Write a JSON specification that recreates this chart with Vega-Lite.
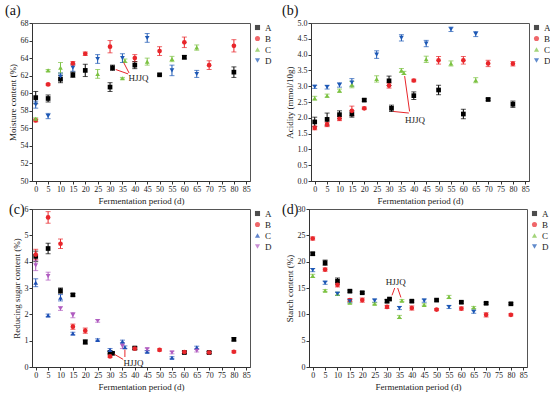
{
"$schema": "https://vega.github.io/schema/vega-lite/v6.json",
"padding": {"left": 4, "top": 3, "right": 0, "bottom": 0},
"background": "white",
"datasets": {
"pts": [
{"panel":"a","grp":"A","day":0,"val":59.5,"err":0.7},
{"panel":"a","grp":"A","day":5,"val":59.4,"err":0.4},
{"panel":"a","grp":"A","day":10,"val":61.6,"err":0.4},
{"panel":"a","grp":"A","day":15,"val":62.1,"err":0.3},
{"panel":"a","grp":"A","day":20,"val":62.6,"err":0.7},
{"panel":"a","grp":"A","day":30,"val":60.7,"err":0.5},
{"panel":"a","grp":"A","day":31,"val":62.9,"err":0.3},
{"panel":"a","grp":"A","day":40,"val":63.2,"err":0.4},
{"panel":"a","grp":"A","day":50,"val":62.1,"err":0.1},
{"panel":"a","grp":"A","day":60,"val":64.1,"err":0.2},
{"panel":"a","grp":"A","day":80,"val":62.4,"err":0.6},
{"panel":"a","grp":"B","day":0,"val":56.9,"err":0.15},
{"panel":"a","grp":"B","day":5,"val":61.0,"err":0.1},
{"panel":"a","grp":"B","day":15,"val":63.4,"err":0.2},
{"panel":"a","grp":"B","day":20,"val":64.5,"err":0.2},
{"panel":"a","grp":"B","day":30,"val":65.3,"err":0.7},
{"panel":"a","grp":"B","day":40,"val":64.0,"err":0.4},
{"panel":"a","grp":"B","day":50,"val":64.8,"err":0.5},
{"panel":"a","grp":"B","day":60,"val":65.8,"err":0.6},
{"panel":"a","grp":"B","day":70,"val":63.2,"err":0.5},
{"panel":"a","grp":"B","day":80,"val":65.4,"err":0.7},
{"panel":"a","grp":"C","day":0,"val":57.1,"err":0.1},
{"panel":"a","grp":"C","day":5,"val":62.6,"err":0.1},
{"panel":"a","grp":"C","day":10,"val":62.9,"err":0.6},
{"panel":"a","grp":"C","day":25,"val":62.2,"err":0.5},
{"panel":"a","grp":"C","day":35,"val":61.7,"err":0.1},
{"panel":"a","grp":"C","day":36,"val":63.7,"err":0.2},
{"panel":"a","grp":"C","day":45,"val":63.6,"err":0.4},
{"panel":"a","grp":"C","day":55,"val":63.9,"err":0.3},
{"panel":"a","grp":"C","day":65,"val":65.2,"err":0.3},
{"panel":"a","grp":"D","day":0,"val":58.7,"err":0.4},
{"panel":"a","grp":"D","day":5,"val":57.4,"err":0.3},
{"panel":"a","grp":"D","day":10,"val":61.9,"err":0.4},
{"panel":"a","grp":"D","day":15,"val":62.9,"err":0.4},
{"panel":"a","grp":"D","day":25,"val":63.9,"err":0.5},
{"panel":"a","grp":"D","day":35,"val":64.0,"err":0.5},
{"panel":"a","grp":"D","day":45,"val":66.3,"err":0.5},
{"panel":"a","grp":"D","day":55,"val":62.6,"err":0.6},
{"panel":"a","grp":"D","day":65,"val":62.2,"err":0.4},
{"panel":"b","grp":"A","day":0,"val":1.87,"err":0.15},
{"panel":"b","grp":"A","day":5,"val":1.95,"err":0.2},
{"panel":"b","grp":"A","day":10,"val":2.1,"err":0.12},
{"panel":"b","grp":"A","day":15,"val":2.12,"err":0.1},
{"panel":"b","grp":"A","day":20,"val":2.56,"err":0.04},
{"panel":"b","grp":"A","day":30,"val":3.17,"err":0.15},
{"panel":"b","grp":"A","day":31,"val":2.3,"err":0.1},
{"panel":"b","grp":"A","day":40,"val":2.7,"err":0.12},
{"panel":"b","grp":"A","day":50,"val":2.88,"err":0.15},
{"panel":"b","grp":"A","day":60,"val":2.12,"err":0.15},
{"panel":"b","grp":"A","day":70,"val":2.58,"err":0.04},
{"panel":"b","grp":"A","day":80,"val":2.43,"err":0.1},
{"panel":"b","grp":"B","day":0,"val":1.68,"err":0.06},
{"panel":"b","grp":"B","day":5,"val":1.79,"err":0.07},
{"panel":"b","grp":"B","day":10,"val":1.97,"err":0.06},
{"panel":"b","grp":"B","day":15,"val":2.22,"err":0.15},
{"panel":"b","grp":"B","day":20,"val":2.3,"err":0.04},
{"panel":"b","grp":"B","day":30,"val":3.02,"err":0.08},
{"panel":"b","grp":"B","day":40,"val":3.18,"err":0.04},
{"panel":"b","grp":"B","day":50,"val":3.82,"err":0.12},
{"panel":"b","grp":"B","day":60,"val":3.82,"err":0.12},
{"panel":"b","grp":"B","day":70,"val":3.72,"err":0.1},
{"panel":"b","grp":"B","day":80,"val":3.71,"err":0.07},
{"panel":"b","grp":"C","day":0,"val":2.62,"err":0.06},
{"panel":"b","grp":"C","day":5,"val":2.7,"err":0.05},
{"panel":"b","grp":"C","day":10,"val":2.86,"err":0.05},
{"panel":"b","grp":"C","day":15,"val":3.05,"err":0.1},
{"panel":"b","grp":"C","day":25,"val":3.23,"err":0.1},
{"panel":"b","grp":"C","day":35,"val":3.5,"err":0.06},
{"panel":"b","grp":"C","day":36,"val":3.42,"err":0.05},
{"panel":"b","grp":"C","day":45,"val":3.85,"err":0.1},
{"panel":"b","grp":"C","day":55,"val":3.72,"err":0.08},
{"panel":"b","grp":"C","day":65,"val":3.19,"err":0.08},
{"panel":"b","grp":"D","day":0,"val":2.98,"err":0.05},
{"panel":"b","grp":"D","day":5,"val":2.97,"err":0.06},
{"panel":"b","grp":"D","day":10,"val":3.04,"err":0.07},
{"panel":"b","grp":"D","day":15,"val":3.12,"err":0.12},
{"panel":"b","grp":"D","day":25,"val":4.0,"err":0.12},
{"panel":"b","grp":"D","day":35,"val":4.53,"err":0.1},
{"panel":"b","grp":"D","day":45,"val":4.35,"err":0.1},
{"panel":"b","grp":"D","day":55,"val":4.8,"err":0.07},
{"panel":"b","grp":"D","day":65,"val":4.65,"err":0.08},
{"panel":"c","grp":"A","day":0,"val":4.2,"err":0.2},
{"panel":"c","grp":"A","day":5,"val":4.5,"err":0.2},
{"panel":"c","grp":"A","day":10,"val":2.9,"err":0.1},
{"panel":"c","grp":"A","day":15,"val":2.74,"err":0.05},
{"panel":"c","grp":"A","day":20,"val":0.95,"err":0.08},
{"panel":"c","grp":"A","day":30,"val":0.55,"err":0.05},
{"panel":"c","grp":"A","day":31,"val":0.52,"err":0.04},
{"panel":"c","grp":"A","day":40,"val":0.72,"err":0.05},
{"panel":"c","grp":"A","day":60,"val":0.55,"err":0.04},
{"panel":"c","grp":"A","day":70,"val":0.55,"err":0.04},
{"panel":"c","grp":"A","day":80,"val":1.05,"err":0.06},
{"panel":"c","grp":"B","day":0,"val":4.27,"err":0.2},
{"panel":"c","grp":"B","day":5,"val":5.68,"err":0.22},
{"panel":"c","grp":"B","day":10,"val":4.68,"err":0.18},
{"panel":"c","grp":"B","day":15,"val":1.53,"err":0.1},
{"panel":"c","grp":"B","day":20,"val":1.38,"err":0.1},
{"panel":"c","grp":"B","day":30,"val":0.4,"err":0.04},
{"panel":"c","grp":"B","day":40,"val":0.7,"err":0.05},
{"panel":"c","grp":"B","day":50,"val":0.65,"err":0.04},
{"panel":"c","grp":"B","day":60,"val":0.57,"err":0.05},
{"panel":"c","grp":"B","day":70,"val":0.55,"err":0.04},
{"panel":"c","grp":"B","day":80,"val":0.58,"err":0.04},
{"panel":"c","grp":"C","day":0,"val":3.2,"err":0.15},
{"panel":"c","grp":"C","day":5,"val":1.96,"err":0.05},
{"panel":"c","grp":"C","day":10,"val":2.63,"err":0.12},
{"panel":"c","grp":"C","day":15,"val":1.27,"err":0.05},
{"panel":"c","grp":"C","day":25,"val":1.03,"err":0.04},
{"panel":"c","grp":"C","day":30,"val":0.65,"err":0.05},
{"panel":"c","grp":"C","day":35,"val":0.97,"err":0.05},
{"panel":"c","grp":"C","day":36,"val":0.75,"err":0.05},
{"panel":"c","grp":"C","day":45,"val":0.58,"err":0.04},
{"panel":"c","grp":"C","day":55,"val":0.35,"err":0.04},
{"panel":"c","grp":"C","day":65,"val":0.74,"err":0.05},
{"panel":"c","grp":"D","day":0,"val":3.86,"err":0.2},
{"panel":"c","grp":"D","day":5,"val":3.45,"err":0.15},
{"panel":"c","grp":"D","day":10,"val":2.22,"err":0.07},
{"panel":"c","grp":"D","day":15,"val":1.97,"err":0.1},
{"panel":"c","grp":"D","day":25,"val":1.75,"err":0.05},
{"panel":"c","grp":"D","day":35,"val":0.8,"err":0.1},
{"panel":"c","grp":"D","day":45,"val":0.67,"err":0.05},
{"panel":"c","grp":"D","day":55,"val":0.55,"err":0.05},
{"panel":"c","grp":"D","day":65,"val":0.62,"err":0.05},
{"panel":"d","grp":"A","day":0,"val":21.5,"err":0.3},
{"panel":"d","grp":"A","day":5,"val":19.8,"err":0.5},
{"panel":"d","grp":"A","day":10,"val":16.3,"err":0.6},
{"panel":"d","grp":"A","day":15,"val":14.4,"err":0.2},
{"panel":"d","grp":"A","day":20,"val":14.1,"err":0.2},
{"panel":"d","grp":"A","day":30,"val":12.5,"err":0.3},
{"panel":"d","grp":"A","day":31,"val":12.9,"err":0.2},
{"panel":"d","grp":"A","day":40,"val":12.5,"err":0.2},
{"panel":"d","grp":"A","day":50,"val":12.7,"err":0.2},
{"panel":"d","grp":"A","day":60,"val":12.3,"err":0.2},
{"panel":"d","grp":"A","day":70,"val":12.1,"err":0.2},
{"panel":"d","grp":"A","day":80,"val":12.0,"err":0.2},
{"panel":"d","grp":"B","day":0,"val":24.4,"err":0.3},
{"panel":"d","grp":"B","day":5,"val":18.5,"err":0.3},
{"panel":"d","grp":"B","day":10,"val":15.6,"err":0.4},
{"panel":"d","grp":"B","day":15,"val":12.7,"err":0.3},
{"panel":"d","grp":"B","day":20,"val":12.7,"err":0.4},
{"panel":"d","grp":"B","day":30,"val":11.4,"err":0.3},
{"panel":"d","grp":"B","day":40,"val":11.2,"err":0.4},
{"panel":"d","grp":"B","day":50,"val":10.9,"err":0.2},
{"panel":"d","grp":"B","day":60,"val":11.1,"err":0.3},
{"panel":"d","grp":"B","day":70,"val":9.9,"err":0.4},
{"panel":"d","grp":"B","day":80,"val":9.9,"err":0.2},
{"panel":"d","grp":"C","day":0,"val":17.3,"err":0.3},
{"panel":"d","grp":"C","day":5,"val":14.5,"err":0.2},
{"panel":"d","grp":"C","day":10,"val":13.9,"err":0.3},
{"panel":"d","grp":"C","day":15,"val":12.2,"err":0.2},
{"panel":"d","grp":"C","day":25,"val":12.0,"err":0.2},
{"panel":"d","grp":"C","day":35,"val":9.5,"err":0.3},
{"panel":"d","grp":"C","day":36,"val":12.6,"err":0.2},
{"panel":"d","grp":"C","day":45,"val":11.8,"err":0.2},
{"panel":"d","grp":"C","day":55,"val":13.3,"err":0.3},
{"panel":"d","grp":"C","day":65,"val":11.3,"err":0.2},
{"panel":"d","grp":"D","day":0,"val":18.4,"err":0.3},
{"panel":"d","grp":"D","day":5,"val":16.0,"err":0.3},
{"panel":"d","grp":"D","day":10,"val":13.9,"err":0.3},
{"panel":"d","grp":"D","day":15,"val":12.5,"err":0.3},
{"panel":"d","grp":"D","day":25,"val":12.6,"err":0.3},
{"panel":"d","grp":"D","day":35,"val":11.2,"err":0.3},
{"panel":"d","grp":"D","day":45,"val":12.6,"err":0.3},
{"panel":"d","grp":"D","day":55,"val":11.4,"err":0.3},
{"panel":"d","grp":"D","day":65,"val":10.5,"err":0.3}
],
"notes": [
{"panel":"a","day":41.5,"val":61.7,"label":"HJJQ"},
{"panel":"b","day":40.5,"val":1.94,"label":"HJJQ"},
{"panel":"c","day":39.5,"val":0.17,"label":"HJJQ"},
{"panel":"d","day":33.5,"val":16.1,"label":"HJJQ"}
],
"arrows": [
{"panel":"a","day":32.3,"val":62.7,"day2":37.3,"val2":62.2},
{"panel":"a","day":35.5,"val":63.5,"day2":37.7,"val2":62.3},
{"panel":"b","day":31.8,"val":2.2,"day2":38.0,"val2":2.15},
{"panel":"b","day":36.3,"val":3.32,"day2":38.3,"val2":2.2},
{"panel":"c","day":31.8,"val":0.48,"day2":35.3,"val2":0.29},
{"panel":"c","day":36,"val":0.66,"day2":36,"val2":0.38},
{"panel":"d","day":32.0,"val":13.6,"day2":33.1,"val2":15.0},
{"panel":"d","day":35.6,"val":13.2,"day2":34.3,"val2":15.0}
]
},
"config": {
"font": "Liberation Serif",
"axis": {"labelFontSize": 8, "titleFontSize": 9, "tickSize": 3, "domainColor": "#333", "tickColor": "#333", "labelColor": "#222", "titleColor": "#222", "titleFontWeight": "normal", "grid": false, "labelPadding": 1, "titlePadding": 3, "labelFont": "Liberation Serif", "titleFont": "Liberation Serif", "labelFlush": false},
"view": {"stroke": "#555"},
"title": {"fontSize": 14, "fontWeight": "normal", "anchor": "start", "frame": "bounds", "offset": 1, "font": "Liberation Serif", "color": "#111", "dx": -3},
"legend": {"labelFontSize": 9, "labelFont": "Liberation Serif", "symbolSize": 26, "rowPadding": 1, "padding": 0, "offset": 3, "symbolStrokeWidth": 0, "labelColor": "#222", "labelOffset": 3},
"point": {"size": 22}
},
"spacing": -4,
"resolve": {"scale": {"color": "independent", "shape": "independent"}, "legend": {"color": "independent", "shape": "independent"}},
"vconcat": [
{"hconcat": [
{"width": 218, "height": 158, "title": {"text": "(a)"},
"layer": [
{"data": {"name": "pts"}, "transform": [{"filter": "datum.panel == 'a'"}],
"mark": {"type": "errorbar", "ticks": true, "thickness": 1},
"encoding": {
"x": {"field": "day", "type": "quantitative", "title": "Fermentation period (d)", "scale": {"domain": [-1.5, 86.5], "nice": false, "zero": false}, "axis": {"values": [0,5,10,15,20,25,30,35,40,45,50,55,60,65,70,75,80,85], "format": "d", "tickCount": 100, "labelOverlap": false}},
"y": {"field": "val", "type": "quantitative", "title": "Moisture content (%)", "scale": {"domain": [50, 68], "nice": false, "zero": false}, "axis": {"values": [50,52,54,56,58,60,62,64,66,68], "format": "d", "tickCount": 100, "labelOverlap": false}},
"yError": {"field": "err"},
"color": {"field": "grp", "type": "nominal", "scale": {"domain": ["A","B","C","D"], "range": ["#000000","#e8262b","#7cc242","#1d58b5"]}, "legend": {"title": null}}}},
{"data": {"name": "pts"}, "transform": [{"filter": "datum.panel == 'a'"}],
"mark": {"type": "point", "filled": true, "opacity": 1},
"encoding": {
"x": {"field": "day", "type": "quantitative"},
"y": {"field": "val", "type": "quantitative"},
"color": {"field": "grp", "type": "nominal", "legend": {"title": null}},
"shape": {"field": "grp", "type": "nominal", "scale": {"domain": ["A","B","C","D"], "range": ["square","circle","triangle-up","triangle-down"]}, "legend": {"title": null}}}},
{"data": {"name": "arrows"}, "transform": [{"filter": "datum.panel == 'a'"}],
"mark": {"type": "rule", "color": "#e8262b", "strokeWidth": 1},
"encoding": {"x": {"field": "day", "type": "quantitative"}, "y": {"field": "val", "type": "quantitative"}, "x2": {"field": "day2"}, "y2": {"field": "val2"}}},
{"data": {"name": "notes"}, "transform": [{"filter": "datum.panel == 'a'"}],
"mark": {"type": "text", "fontSize": 9, "color": "#222"},
"encoding": {"x": {"field": "day", "type": "quantitative"}, "y": {"field": "val", "type": "quantitative"}, "text": {"field": "label"}}}
]},
{"width": 218, "height": 158, "title": {"text": "(b)"},
"layer": [
{"data": {"name": "pts"}, "transform": [{"filter": "datum.panel == 'b'"}],
"mark": {"type": "errorbar", "ticks": true, "thickness": 1},
"encoding": {
"x": {"field": "day", "type": "quantitative", "title": "Fermentation period (d)", "scale": {"domain": [-1.5, 86.5], "nice": false, "zero": false}, "axis": {"values": [0,5,10,15,20,25,30,35,40,45,50,55,60,65,70,75,80,85], "format": "d", "tickCount": 100, "labelOverlap": false}},
"y": {"field": "val", "type": "quantitative", "title": "Acidity (mmol/10g)", "scale": {"domain": [0, 5], "nice": false}, "axis": {"values": [0,0.5,1,1.5,2,2.5,3,3.5,4,4.5,5], "format": ".1f", "tickCount": 100, "labelOverlap": false}},
"yError": {"field": "err"},
"color": {"field": "grp", "type": "nominal", "scale": {"domain": ["A","B","C","D"], "range": ["#000000","#e8262b","#7cc242","#1d58b5"]}, "legend": {"title": null}}}},
{"data": {"name": "pts"}, "transform": [{"filter": "datum.panel == 'b'"}],
"mark": {"type": "point", "filled": true, "opacity": 1},
"encoding": {
"x": {"field": "day", "type": "quantitative"},
"y": {"field": "val", "type": "quantitative"},
"color": {"field": "grp", "type": "nominal", "legend": {"title": null}},
"shape": {"field": "grp", "type": "nominal", "scale": {"domain": ["A","B","C","D"], "range": ["square","circle","triangle-up","triangle-down"]}, "legend": {"title": null}}}},
{"data": {"name": "arrows"}, "transform": [{"filter": "datum.panel == 'b'"}],
"mark": {"type": "rule", "color": "#e8262b", "strokeWidth": 1},
"encoding": {"x": {"field": "day", "type": "quantitative"}, "y": {"field": "val", "type": "quantitative"}, "x2": {"field": "day2"}, "y2": {"field": "val2"}}},
{"data": {"name": "notes"}, "transform": [{"filter": "datum.panel == 'b'"}],
"mark": {"type": "text", "fontSize": 9, "color": "#222"},
"encoding": {"x": {"field": "day", "type": "quantitative"}, "y": {"field": "val", "type": "quantitative"}, "text": {"field": "label"}}}
]}
],
"spacing": 8,
"resolve": {"scale": {"color": "independent", "shape": "independent"}, "legend": {"color": "independent", "shape": "independent"}}},
{"hconcat": [
{"width": 218, "height": 158, "title": {"text": "(c)", "offset": -12},
"layer": [
{"data": {"name": "pts"}, "transform": [{"filter": "datum.panel == 'c'"}],
"mark": {"type": "errorbar", "ticks": true, "thickness": 1},
"encoding": {
"x": {"field": "day", "type": "quantitative", "title": "Fermentation period (d)", "scale": {"domain": [-1.5, 86.5], "nice": false, "zero": false}, "axis": {"values": [0,5,10,15,20,25,30,35,40,45,50,55,60,65,70,75,80,85], "format": "d", "tickCount": 100, "labelOverlap": false}},
"y": {"field": "val", "type": "quantitative", "title": "Reducing sugar content (%)", "scale": {"domain": [0, 6], "nice": false}, "axis": {"values": [0,1,2,3,4,5,6], "format": "d", "tickCount": 100, "labelOverlap": false}},
"yError": {"field": "err"},
"color": {"field": "grp", "type": "nominal", "scale": {"domain": ["A","B","C","D"], "range": ["#000000","#e8262b","#1d4fb5","#b05cc0"]}, "legend": {"title": null}}}},
{"data": {"name": "pts"}, "transform": [{"filter": "datum.panel == 'c'"}],
"mark": {"type": "point", "filled": true, "opacity": 1},
"encoding": {
"x": {"field": "day", "type": "quantitative"},
"y": {"field": "val", "type": "quantitative"},
"color": {"field": "grp", "type": "nominal", "legend": {"title": null}},
"shape": {"field": "grp", "type": "nominal", "scale": {"domain": ["A","B","C","D"], "range": ["square","circle","triangle-up","triangle-down"]}, "legend": {"title": null}}}},
{"data": {"name": "arrows"}, "transform": [{"filter": "datum.panel == 'c'"}],
"mark": {"type": "rule", "color": "#e8262b", "strokeWidth": 1},
"encoding": {"x": {"field": "day", "type": "quantitative"}, "y": {"field": "val", "type": "quantitative"}, "x2": {"field": "day2"}, "y2": {"field": "val2"}}},
{"data": {"name": "notes"}, "transform": [{"filter": "datum.panel == 'c'"}],
"mark": {"type": "text", "fontSize": 9, "color": "#222"},
"encoding": {"x": {"field": "day", "type": "quantitative"}, "y": {"field": "val", "type": "quantitative"}, "text": {"field": "label"}}}
]},
{"width": 218, "height": 158, "title": {"text": "(d)", "offset": -12},
"layer": [
{"data": {"name": "pts"}, "transform": [{"filter": "datum.panel == 'd'"}],
"mark": {"type": "errorbar", "ticks": true, "thickness": 1},
"encoding": {
"x": {"field": "day", "type": "quantitative", "title": "Fermentation period (d)", "scale": {"domain": [-1.5, 86.5], "nice": false, "zero": false}, "axis": {"values": [0,5,10,15,20,25,30,35,40,45,50,55,60,65,70,75,80,85], "format": "d", "tickCount": 100, "labelOverlap": false}},
"y": {"field": "val", "type": "quantitative", "title": "Starch content (%)", "scale": {"domain": [0, 30], "nice": false}, "axis": {"values": [0,5,10,15,20,25,30], "format": "d", "tickCount": 100, "labelOverlap": false}},
"yError": {"field": "err"},
"color": {"field": "grp", "type": "nominal", "scale": {"domain": ["A","B","C","D"], "range": ["#000000","#e8262b","#7cc242","#1d58b5"]}, "legend": {"title": null}}}},
{"data": {"name": "pts"}, "transform": [{"filter": "datum.panel == 'd'"}],
"mark": {"type": "point", "filled": true, "opacity": 1},
"encoding": {
"x": {"field": "day", "type": "quantitative"},
"y": {"field": "val", "type": "quantitative"},
"color": {"field": "grp", "type": "nominal", "legend": {"title": null}},
"shape": {"field": "grp", "type": "nominal", "scale": {"domain": ["A","B","C","D"], "range": ["square","circle","triangle-up","triangle-down"]}, "legend": {"title": null}}}},
{"data": {"name": "arrows"}, "transform": [{"filter": "datum.panel == 'd'"}],
"mark": {"type": "rule", "color": "#e8262b", "strokeWidth": 1},
"encoding": {"x": {"field": "day", "type": "quantitative"}, "y": {"field": "val", "type": "quantitative"}, "x2": {"field": "day2"}, "y2": {"field": "val2"}}},
{"data": {"name": "notes"}, "transform": [{"filter": "datum.panel == 'd'"}],
"mark": {"type": "text", "fontSize": 9, "color": "#222"},
"encoding": {"x": {"field": "day", "type": "quantitative"}, "y": {"field": "val", "type": "quantitative"}, "text": {"field": "label"}}}
]}
],
"spacing": 8,
"resolve": {"scale": {"color": "independent", "shape": "independent"}, "legend": {"color": "independent", "shape": "independent"}}}
]
}
